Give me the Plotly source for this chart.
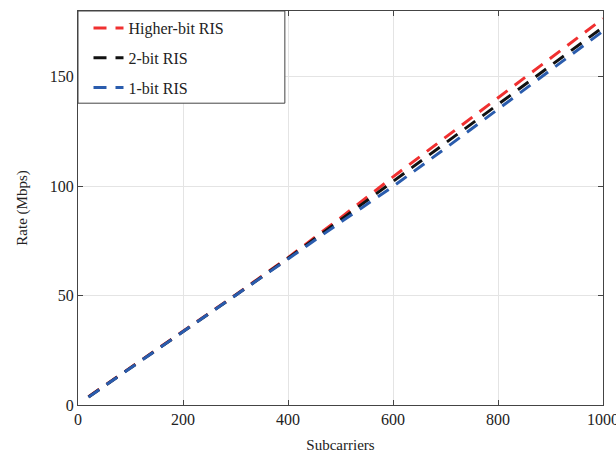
import plotly.graph_objects as go

subcarriers = [20, 100, 200, 300, 400, 500, 600, 700, 800, 900, 1000]
rate_higher = [3.8, 17.0, 33.6, 50.3, 67.3, 85.5, 104.2, 122.3, 140.4, 158.5, 176.5]
rate_2bit = [3.7, 16.9, 33.5, 50.1, 67.0, 84.5, 102.0, 119.6, 137.3, 155.0, 172.6]
rate_1bit = [3.6, 16.8, 33.3, 49.9, 66.7, 83.5, 99.8, 117.3, 135.0, 152.8, 170.8]

series = [
    ("Higher-bit RIS", rate_higher, "#f03030"),
    ("2-bit RIS", rate_2bit, "#111111"),
    ("1-bit RIS", rate_1bit, "#2a5cad"),
]

fig = go.Figure()
for i, (name, ys, col) in enumerate(series):
    fig.add_trace(go.Scatter(x=subcarriers, y=ys, mode="lines", name=name,
                             legendgroup=f"g{i}",
                             line=dict(color=col, width=3, dash="13px,9px")))

font = "Liberation Serif, Times New Roman, serif"
axis_common = dict(showline=True, linecolor="#444", linewidth=1, mirror="ticks",
                   ticks="inside", ticklen=5, tickcolor="#444",
                   showgrid=True, gridcolor="#e4e4e4", gridwidth=1,
                   zeroline=False, ticklabeloverflow="allow", automargin=False,
                   tickfont=dict(family=font, size=16, color="#222"))

# legend frame (paper coordinates of the plot area)
fig.add_shape(type="rect", xref="paper", yref="paper", x0=0, x1=0.394, y0=0.766, y1=1,
              fillcolor="white", line=dict(color="#444", width=1), layer="above")

fig.update_layout(
    width=616, height=454,
    margin=dict(l=78, r=13, t=11, b=49),
    paper_bgcolor="white", plot_bgcolor="white",
    font=dict(family=font, size=16, color="#222"),
    xaxis=dict(range=[0, 1000], tickvals=[0, 200, 400, 600, 800, 1000],
               title=dict(text="Subcarriers", font=dict(family=font, size=15), standoff=12),
               **axis_common),
    yaxis=dict(range=[0, 180], tickvals=[0, 50, 100, 150],
               title=dict(text="Rate (Mbps)", font=dict(family=font, size=15), standoff=18),
               **axis_common),
    legend=dict(x=0.02, y=1.0, xanchor="left", yanchor="top", bgcolor="rgba(0,0,0,0)",
                borderwidth=0,
                font=dict(family=font, size=16, color="#222"),
                tracegroupgap=6),
    showlegend=True,
)

fig.write_html("out.html")
